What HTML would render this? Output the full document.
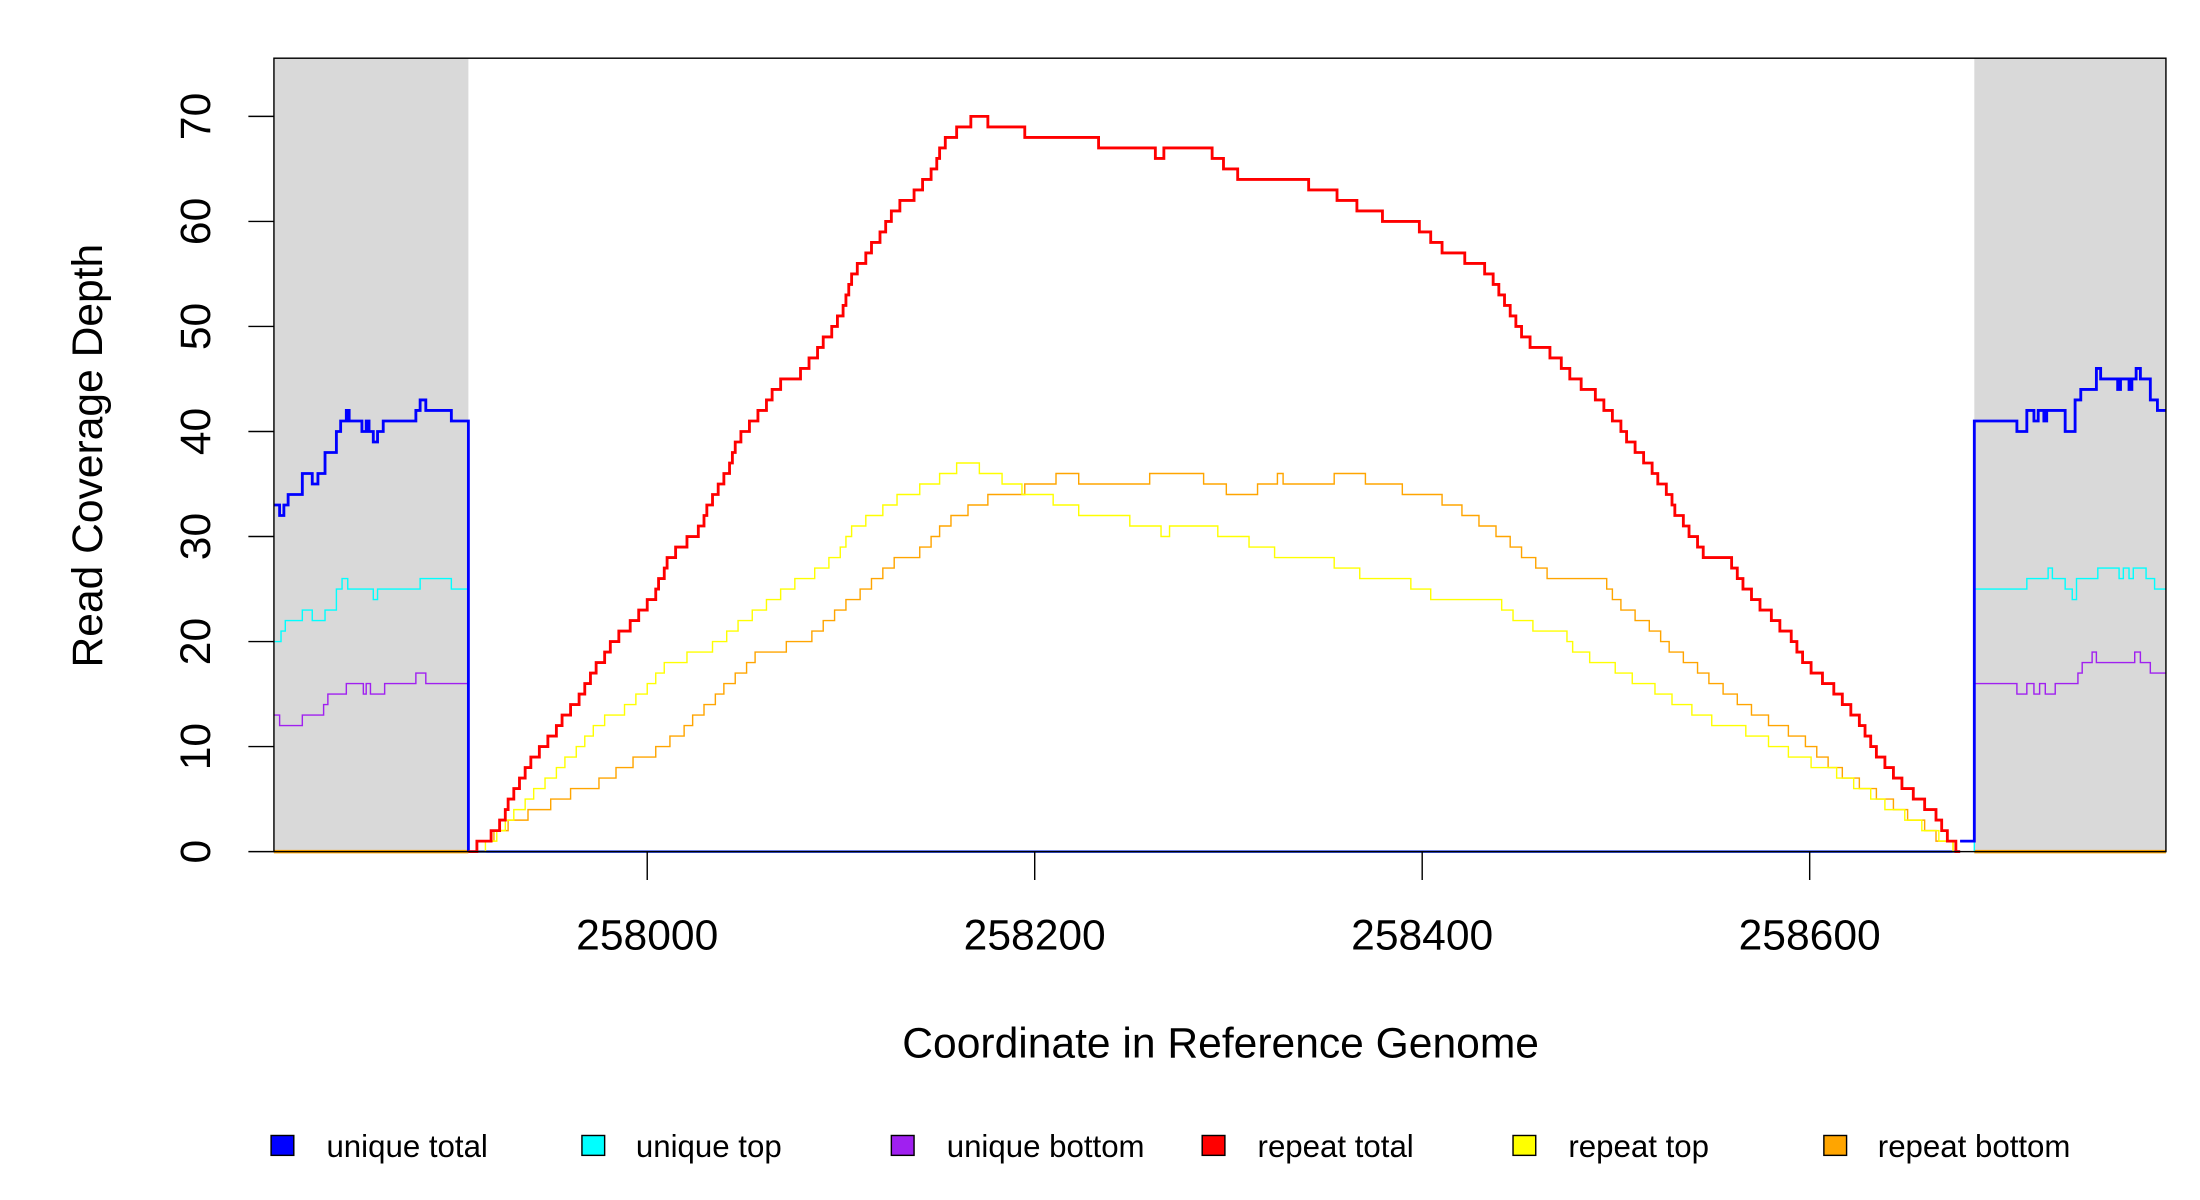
<!DOCTYPE html>
<html><head><meta charset="utf-8"><style>
html,body{margin:0;padding:0;background:#fff;}
svg{display:block;}
text{font-family:"Liberation Sans",Arial,sans-serif;fill:#000;}
</style></head><body>
<svg id="s" width="2200" height="1200" viewBox="0 0 1550 845.45" xmlns="http://www.w3.org/2000/svg">
<rect x="193" y="41" width="137" height="559" fill="#d9d9d9"/>
<rect x="1391" y="41" width="135" height="559" fill="#d9d9d9"/>
<g id="lines"></g>
<rect x="193" y="41" width="1333" height="559" fill="none" stroke="#000" stroke-width="1"/>
<g stroke="#000" stroke-width="1">
<line x1="175" y1="600" x2="193" y2="600"/><line x1="175" y1="526" x2="193" y2="526"/>
<line x1="175" y1="452" x2="193" y2="452"/><line x1="175" y1="378" x2="193" y2="378"/>
<line x1="175" y1="304" x2="193" y2="304"/><line x1="175" y1="230" x2="193" y2="230"/>
<line x1="175" y1="156" x2="193" y2="156"/><line x1="175" y1="82" x2="193" y2="82"/>
<line x1="456" y1="600" x2="456" y2="620"/><line x1="729" y1="600" x2="729" y2="620"/>
<line x1="1002" y1="600" x2="1002" y2="620"/><line x1="1275" y1="600" x2="1275" y2="620"/>
</g>
<g font-size="30" text-anchor="middle">
<text transform="translate(148,600) rotate(-90)">0</text>
<text transform="translate(148,526) rotate(-90)">10</text>
<text transform="translate(148,452) rotate(-90)">20</text>
<text transform="translate(148,378) rotate(-90)">30</text>
<text transform="translate(148,304) rotate(-90)">40</text>
<text transform="translate(148,230) rotate(-90)">50</text>
<text transform="translate(148,156) rotate(-90)">60</text>
<text transform="translate(148,82) rotate(-90)">70</text>
<text x="456" y="669">258000</text><text x="729" y="669">258200</text>
<text x="1002" y="669">258400</text><text x="1275" y="669">258600</text>
<text x="860" y="745">Coordinate in Reference Genome</text>
<text transform="translate(72,321) rotate(-90)">Read Coverage Depth</text>
</g>
<g stroke="#000" stroke-width="1">
<rect x="191" y="800" width="16" height="14" fill="#0000ff"/>
<rect x="410" y="800" width="16" height="14" fill="#00ffff"/>
<rect x="628" y="800" width="16" height="14" fill="#a020f0"/>
<rect x="847" y="800" width="16" height="14" fill="#ff0000"/>
<rect x="1066" y="800" width="16" height="14" fill="#ffff00"/>
<rect x="1285" y="800" width="16" height="14" fill="#ffa500"/>
</g>
<g font-size="22">
<text x="230" y="815">unique total</text><text x="448" y="815">unique top</text>
<text x="667" y="815">unique bottom</text><text x="886" y="815">repeat total</text>
<text x="1105" y="815">repeat top</text><text x="1323" y="815">repeat bottom</text>
</g>
</svg>
<script>
var Y=function(d){return 600-7.4*d;};
var g=document.getElementById('lines');
function add(d,col,w){var p=document.createElementNS('http://www.w3.org/2000/svg','path');p.setAttribute('d',d);p.setAttribute('fill','none');p.setAttribute('stroke',col);p.setAttribute('stroke-width',w);g.appendChild(p);}
function seg(arr){var d='M'+arr[0][0]+' '+Y(arr[0][2]);arr.forEach(function(s){d+=' L'+s[0]+' '+Y(s[2])+' L'+s[1]+' '+Y(s[2]);});return d;}
function knots(k){var d='',prev=null;for(var x=k[0][0];x<=k[k.length-1][0];x+=2){var i=0;while(i<k.length-2&&k[i+1][0]<x)i++;var a=k[i],b=k[i+1];var t=(x-a[0])/(b[0]-a[0]);var y=a[1]+t*(b[1]-a[1]);var dep=Math.round((600-y)/7.4*1);var yy=Y(dep);if(prev===null){d='M'+x+' '+yy;}else{d+=' L'+x+' '+prev+' L'+x+' '+yy;}prev=yy;}d+=' L'+k[k.length-1][0]+' '+prev;return d;}
// baselines
add('M193 600 L330 600 M1391 600 L1526 600','#ffa500',2.5);
add('M330 600 L1381 600','#4060ff',2);
// unique bottom
add(seg([[193,197,13],[197,213,12],[213,228,13],[228,231,14],[231,244,15],[244,256,16],[256,258,15],[258,261,16],[261,271,15],[271,293,16],[293,300,17],[300,330,16],[330,330,0]]),'#a020f0',1);
add(seg([[1381,1391,1],[1391,1421,16],[1421,1428,15],[1428,1433,16],[1433,1437,15],[1437,1441,16],[1441,1448,15],[1448,1464,16],[1464,1467,17],[1467,1474,18],[1474,1477,19],[1477,1504,18],[1504,1508,19],[1508,1515,18],[1515,1526,17]]),'#a020f0',1);
// unique top
add(seg([[193,198,20],[198,201,21],[201,213,22],[213,220,23],[220,229,22],[229,237,23],[237,241,25],[241,245,26],[245,263,25],[263,266,24],[266,296,25],[296,318,26],[318,330,25],[330,330,0]]),'#00ffff',1);
add(seg([[1391,1391,0],[1391,1428,25],[1428,1443,26],[1443,1446,27],[1446,1455,26],[1455,1460,25],[1460,1463,24],[1463,1478,26],[1478,1493,27],[1493,1496,26],[1496,1500,27],[1500,1503,26],[1503,1512,27],[1512,1518,26],[1518,1526,25]]),'#00ffff',1);
// unique total
add(seg([[193,197,33],[197,200,32],[200,203,33],[203,213,34],[213,220,36],[220,224,35],[224,229,36],[229,237,38],[237,240,40],[240,244,41],[244,246,42],[246,255,41],[255,258,40],[258,260,41],[260,263,40],[263,266,39],[266,270,40],[270,293,41],[293,296,42],[296,300,43],[300,318,42],[318,330,41],[330,330,0]]),'#0000ff',2);
add(seg([[1381,1391,1],[1391,1421,41],[1421,1428,40],[1428,1433,42],[1433,1436,41],[1436,1440,42],[1440,1442,41],[1442,1455,42],[1455,1462,40],[1462,1466,43],[1466,1477,44],[1477,1480,46],[1480,1492,45],[1492,1494,44],[1494,1500,45],[1500,1502,44],[1502,1505,45],[1505,1508,46],[1508,1515,45],[1515,1520,43],[1520,1526,42]]),'#0000ff',2);
// repeat bottom
add(knots([[330,600],[345,590],[360,580],[380,570],[400,560],[420,552],[440,540],[460,530],[480,515],[500,495],[520,475],[535,460],[550,457],[570,450],[590,430],[610,415],[630,395],[650,388],[665,370],[680,360],[700,350],[720,345],[750,335],[770,340],[790,342],[810,337],[825,332],[850,338],[875,350],[900,337],[930,340],[955,333],[970,343],[990,345],[1010,350],[1030,360],[1050,372],[1070,388],[1090,405],[1110,408],[1130,410],[1140,425],[1160,440],[1180,460],[1200,475],[1220,490],[1240,505],[1260,515],[1275,525],[1290,540],[1310,553],[1330,565],[1350,578],[1365,590],[1381,600]]),'#ffa500',1);
// repeat top
add(knots([[330,600],[345,595],[360,575],[375,560],[390,545],[405,530],[420,510],[440,500],[460,480],[470,465],[490,462],[510,450],[520,440],[540,425],[560,410],[580,400],[590,390],[600,372],[615,363],[630,353],[650,343],[665,335],[680,326],[700,335],[720,345],[740,352],[760,360],[780,363],[800,368],[820,375],[840,368],[860,375],[880,382],[900,390],[920,390],[935,395],[950,402],[970,407],[990,410],[1010,420],[1030,424],[1050,420],[1060,430],[1075,440],[1100,445],[1110,460],[1130,467],[1150,478],[1170,488],[1190,500],[1210,510],[1230,515],[1250,525],[1270,535],[1290,542],[1310,555],[1330,568],[1350,580],[1370,592],[1381,600]]),'#ffff00',1);
// repeat total
add(knots([[330,600],[350,585],[360,560],[375,535],[390,515],[405,495],[420,470],[430,455],[445,438],[460,420],[470,395],[480,385],[490,375],[500,355],[510,335],[520,310],[535,290],[550,270],[565,262],[580,240],[590,225],[600,195],[610,180],[620,165],[630,148],[645,135],[655,125],[665,100],[680,88],[690,80],[700,90],[720,93],[760,98],[780,102],[810,102],[815,112],[825,102],[850,105],[865,120],[880,128],[900,127],[920,130],[940,137],[960,148],[980,155],[1000,160],[1010,170],[1020,178],[1040,185],[1050,195],[1060,215],[1075,240],[1090,247],[1110,268],[1125,280],[1140,300],[1155,320],[1170,340],[1180,360],[1190,375],[1200,390],[1220,397],[1230,415],[1245,432],[1260,448],[1270,465],[1285,480],[1300,495],[1310,510],[1320,528],[1335,548],[1350,562],[1360,570],[1370,585],[1375,595],[1381,600]]),'#ff0000',2);
</script>
</body></html>
